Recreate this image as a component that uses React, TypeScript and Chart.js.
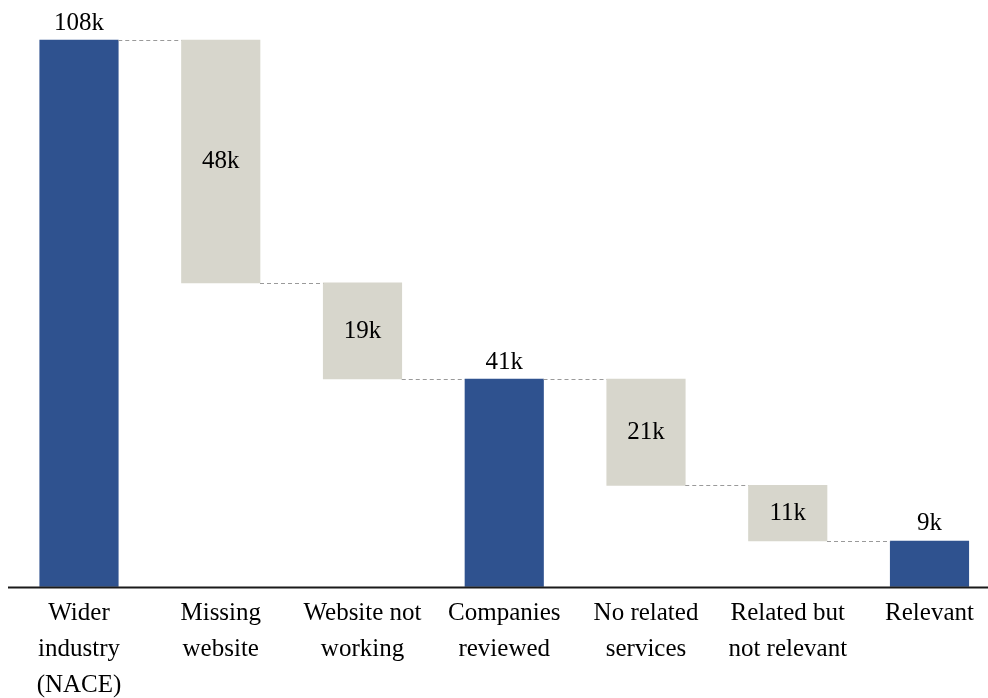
import React, { useEffect, useRef } from "react";
import { Chart, registerables } from "chart.js";

Chart.register(...registerables);

const categories: string[][] = [
  ["Wider", "industry", "(NACE)"],
  ["Missing", "website"],
  ["Website not", "working"],
  ["Companies", "reviewed"],
  ["No related", "services"],
  ["Related but", "not relevant"],
  ["Relevant"],
];
const barStarts = [0, 60, 41, 0, 20, 9, 0];
const barEnds = [108, 108, 60, 41, 41, 20, 9];
const isTotal = [true, false, false, true, false, false, true];

const BLUE = "#2f528f";
const GRAY = "#d7d6cc";
const FONT = "'Liberation Serif', 'Times New Roman', serif";

const waterfallPlugin = {
  id: "waterfallExtras",
  afterDatasetsDraw(chart: any) {
    const { ctx, chartArea } = chart;
    const meta = chart.getDatasetMeta(0);
    const yScale = chart.scales.y;
    ctx.save();
    // connectors
    ctx.strokeStyle = "#9a9a9a";
    ctx.lineWidth = 1;
    ctx.setLineDash([4, 3]);
    for (let i = 0; i < meta.data.length - 1; i++) {
      const a = meta.data[i];
      const b = meta.data[i + 1];
      const level = Math.max(barStarts[i + 1], barEnds[i + 1]);
      const y = Math.round(yScale.getPixelForValue(level)) + 0.5;
      ctx.beginPath();
      ctx.moveTo(a.x + a.width / 2, y);
      ctx.lineTo(b.x - b.width / 2, y);
      ctx.stroke();
    }
    ctx.setLineDash([]);
    // baseline
    ctx.strokeStyle = "#1a1a1a";
    ctx.lineWidth = 2;
    ctx.beginPath();
    ctx.moveTo(8, chartArea.bottom + 1);
    ctx.lineTo(988, chartArea.bottom + 1);
    ctx.stroke();
    // value labels
    ctx.fillStyle = "#000";
    ctx.font = `25px ${FONT}`;
    ctx.textAlign = "center";
    ctx.textBaseline = "alphabetic";
    for (let i = 0; i < meta.data.length; i++) {
      const el = meta.data[i];
      const val = barEnds[i] - barStarts[i];
      const text = `${val}k`;
      const top = yScale.getPixelForValue(barEnds[i]);
      const bottom = yScale.getPixelForValue(barStarts[i]);
      if (isTotal[i]) {
        ctx.fillText(text, el.x, top - 10.5);
      } else {
        ctx.fillText(text, el.x, (top + bottom) / 2 + 7);
      }
    }
    ctx.restore();
  },
};

export default function App() {
  const ref = useRef<HTMLCanvasElement | null>(null);
  useEffect(() => {
    if (!ref.current) return;
    const chart = new Chart(ref.current, {
      type: "bar",
      data: {
        labels: categories,
        datasets: [
          {
            data: barStarts.map((s, i) => [s, barEnds[i]]) as any,
            backgroundColor: isTotal.map((t) => (t ? BLUE : GRAY)),
            borderWidth: 0,
            barThickness: 78.5,
            clip: false as any,
          },
        ],
      },
      options: {
        animation: false,
        responsive: false,
        maintainAspectRatio: false,
        layout: { padding: { left: 79, right: 58.5, top: 40, bottom: 0 } },
        plugins: { legend: { display: false }, tooltip: { enabled: false } },
        scales: {
          x: {
            offset: false,
            grid: { display: false, drawTicks: false },
            border: { display: false },
            ticks: {
              color: "#000",
              padding: 9,
              maxRotation: 0,
              autoSkip: false,
              font: { family: FONT, size: 25, lineHeight: "36px" },
            },
            afterFit: (scale: any) => {
              scale.height = 698 - 586.5;
            },
          },
          y: {
            display: false,
            min: 0,
            max: 108,
          },
        },
      },
      plugins: [waterfallPlugin],
    });
    return () => chart.destroy();
  }, []);
  return (
    <div style={{ position: "absolute", left: 0, top: 0, width: 988, height: 698 }}>
      <canvas ref={ref} width={988} height={698} style={{ display: "block" }} />
    </div>
  );
}
